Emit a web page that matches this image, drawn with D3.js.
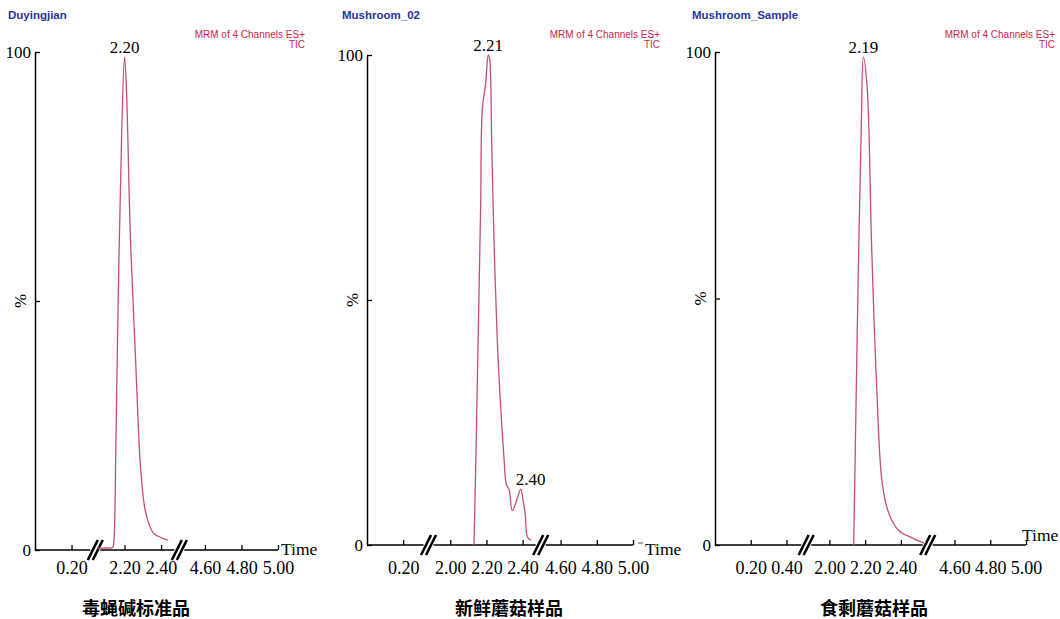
<!DOCTYPE html>
<html>
<head>
<meta charset="utf-8">
<script src="https://cdn.jsdelivr.net/npm/d3@7"></script>
<style>
  body { margin: 0; background: #fff; }
  text { fill: #000; }
</style>
</head>
<body>
<svg width="1060" height="619"></svg>
<script>

// sample names and captions
var sampleNames = ["Duyingjian", "Mushroom_02", "Mushroom_Sample"],
    captions = ["毒蝇碱标准品", "新鲜蘑菇样品", "食剩蘑菇样品"],
    scanLine1 = "MRM of 4 Channels ES+",
    scanLine2 = "TIC";

// visible pieces of the broken time axis (min)
var segments1 = [[0, 0.33], [2.04, 2.50], [4.46, 5.00]],
    segments2 = [[0, 0.34], [1.88, 2.50], [4.49, 5.00]],
    segments3 = [[0, 0.51], [1.87, 2.55], [4.45, 5.00]];

var ticks1 = [0.20, 2.20, 2.40, 4.60, 4.80, 5.00],
    ticks2 = [0.20, 2.00, 2.20, 2.40, 4.60, 4.80, 5.00],
    ticks3 = [0.20, 0.40, 2.00, 2.20, 2.40, 4.60, 4.80, 5.00];

// TIC traces, time (min) and relative intensity (%)
var time1 = [2.05, 2.10, 2.135, 2.142, 2.153, 2.168, 2.184, 2.20, 2.21, 2.232, 2.263, 2.289, 2.316, 2.358, 2.40, 2.437],
    pct1  = [0.4, 0.4, 0.5, 2, 22, 56, 83, 99, 93, 63, 36, 16, 7.5, 3.4, 2.5, 2];

var time2 = [2.131, 2.140, 2.154, 2.168, 2.177, 2.196, 2.21, 2.218, 2.229, 2.242, 2.26, 2.279, 2.297, 2.31, 2.325, 2.343, 2.371, 2.39, 2.403, 2.414, 2.427, 2.446],
    pct2  = [0, 14.7, 41.8, 69, 88.8, 94.3, 100, 99, 82.4, 62, 41.8, 28, 17.8, 12.4, 11.4, 7, 9.6, 11.4, 9, 6.5, 1.6, 1];

var time3 = [2.136, 2.145, 2.161, 2.179, 2.19, 2.211, 2.236, 2.263, 2.296, 2.334, 2.389, 2.466, 2.53],
    pct3  = [0, 19.6, 54, 86, 99, 93, 61, 33.5, 12.4, 6.3, 2.9, 1.4, 0.4];

// labelled peaks
var peakTime1 = [2.20], peakPct1 = [99], peakText1 = ["2.20"];
var peakTime2 = [2.21, 2.39], peakPct2 = [100, 11.4], peakText2 = ["2.21", "2.40"];
var peakTime3 = [2.19], peakPct3 = [99], peakText3 = ["2.19"];

var serif = "'Liberation Serif', 'Times New Roman', serif",
    sans = "'Liberation Sans', Arial, sans-serif",
    lineColor = "#c8506f";

var panels = [
  {left: 35,  right: 278,  top: 52, bottom: 550, timeDx: 3,  timeDy: 5,  capX: 136, titleX: 8,   segs: segments1, ticks: ticks1, t: time1, p: pct1, pt: peakTime1, pp: peakPct1, ptxt: peakText1},
  {left: 367, right: 633,  top: 55, bottom: 545, timeDx: 12, timeDy: 10, capX: 509, titleX: 342, segs: segments2, ticks: ticks2, t: time2, p: pct2, pt: peakTime2, pp: peakPct2, ptxt: peakText2},
  {left: 715, right: 1026, top: 52, bottom: 545, timeDx: -4, timeDy: -4, capX: 874, titleX: 692, segs: segments3, ticks: ticks3, t: time3, p: pct3, pt: peakTime3, pp: peakPct3, ptxt: peakText3}
];

var svg = d3.select("svg");
svg.append("rect").attr("width", 1060).attr("height", 619).attr("fill", "#fff");

// piecewise scale: every visible piece gets the same px per minute
function brokenScale(segs, r0, r1) {
  var span = d3.sum(segs, function(s) { return s[1] - s[0]; }),
      k = (r1 - r0) / span,
      dom = [], rng = [], pos = r0;
  segs.forEach(function(s) {
    dom.push(s[0], s[1]);
    rng.push(pos, pos + (s[1] - s[0]) * k);
    pos += (s[1] - s[0]) * k;
  });
  return d3.scaleLinear().domain(dom).range(rng);
}

panels.forEach(function(pn, i) {
  var x = brokenScale(pn.segs, pn.left, pn.right),
      y = d3.scaleLinear().domain([0, 100]).range([pn.bottom, pn.top]);

  var g = svg.append("g");

  // headers
  g.append("text")
      .attr("x", pn.titleX).attr("y", 19)
      .style("font", "bold 11.5px " + sans)
      .style("fill", "#24369c")
      .text(sampleNames[i]);
  var rightEdge = pn.right + (i == 2 ? 29 : 27);
  g.append("text")
      .attr("x", rightEdge).attr("y", 38)
      .attr("text-anchor", "end")
      .style("font", "10px " + sans)
      .style("fill", "#d0234c")
      .text(scanLine1);
  g.append("text")
      .attr("x", rightEdge).attr("y", 48)
      .attr("text-anchor", "end")
      .style("font", "10px " + sans)
      .style("fill", "#d0234c")
      .text(scanLine2);

  // x axis: ticks and labels from d3, base line drawn per piece
  var xAxis = d3.axisBottom(x)
      .tickValues(pn.ticks)
      .tickSizeInner(-5)
      .tickSizeOuter(0)
      .tickPadding(574 - pn.bottom - 12.8)
      .tickFormat(d3.format(".2f"));

  var gx = g.append("g")
      .attr("transform", "translate(0," + pn.bottom + ")")
      .call(xAxis);
  gx.select(".domain").remove();
  gx.selectAll(".tick line").attr("stroke", "#000").attr("stroke-width", 1.3);
  gx.selectAll(".tick text").style("font", "18px " + serif).style("fill", "#000");

  pn.segs.forEach(function(s, j) {
    var a = x(s[0]) + (j > 0 ? 5 : 0),
        b = x(s[1]) - (j < pn.segs.length - 1 ? 5 : 0);
    g.append("line")
        .attr("x1", a).attr("x2", b)
        .attr("y1", pn.bottom).attr("y2", pn.bottom)
        .attr("stroke", "#000").attr("stroke-width", 1.5);
    if (j > 0) {
      var bx = x(s[0]);
      [-2.5, 2.5].forEach(function(o) {
        g.append("line")
            .attr("x1", bx + o - 5).attr("y1", pn.bottom + 10)
            .attr("x2", bx + o + 5).attr("y2", pn.bottom - 10)
            .attr("stroke", "#000").attr("stroke-width", 2.6);
      });
    }
  });

  if (i == 1) {
    g.append("line")
        .attr("x1", pn.right + 5).attr("x2", pn.right + 10)
        .attr("y1", pn.bottom - 2).attr("y2", pn.bottom - 2)
        .attr("stroke", "#555").attr("stroke-width", 1);
  }

  g.append("text")
      .attr("x", pn.right + pn.timeDx).attr("y", pn.bottom + pn.timeDy)
      .style("font", "17.5px " + serif)
      .text("Time");

  // y axis
  var yAxis = d3.axisLeft(y)
      .tickValues([0, 50, 100])
      .tickSizeInner(-5)
      .tickSizeOuter(0)
      .tickPadding(4)
      .tickFormat(function(d) { return d == 50 ? "" : d; });

  var gy = g.append("g")
      .attr("transform", "translate(" + pn.left + ",0)")
      .call(yAxis);
  gy.select(".domain").attr("stroke", "#000").attr("stroke-width", 1.5);
  gy.selectAll(".tick line").attr("stroke", "#000").attr("stroke-width", 1.3);
  gy.selectAll(".tick text").style("font", "17px " + serif).style("fill", "#000");

  g.append("text")
      .attr("transform", "translate(" + (pn.left - 9) + "," + y(50) + ") rotate(-90)")
      .attr("text-anchor", "middle")
      .style("font", "17px " + serif)
      .text("%");

  // trace
  var line = d3.line()
      .curve(d3.curveCatmullRom.alpha(0.5))
      .x(function(d) { return x(d[0]); })
      .y(function(d) { return y(d[1]); });

  g.append("path")
      .datum(d3.zip(pn.t, pn.p))
      .attr("d", line)
      .attr("fill", "none")
      .attr("stroke", lineColor)
      .attr("stroke-width", 1.3)
      .attr("stroke-linejoin", "round");

  // peak labels
  pn.pt.forEach(function(t, k) {
    var small = pn.pp[k] < 50;
    g.append("text")
        .attr("x", x(t) - (small ? 5 : 0))
        .attr("y", y(pn.pp[k]) - 4)
        .attr("text-anchor", small ? "start" : "middle")
        .style("font", "17px " + serif)
        .text(pn.ptxt[k]);
  });

  // caption
  g.append("text")
      .attr("x", pn.capX)
      .attr("y", 607)
      .attr("dominant-baseline", "central")
      .attr("text-anchor", "middle")
      .style("font", "600 18px 'Noto Sans CJK SC', sans-serif")
      .text(captions[i]);
});

</script>
</body>
</html>
